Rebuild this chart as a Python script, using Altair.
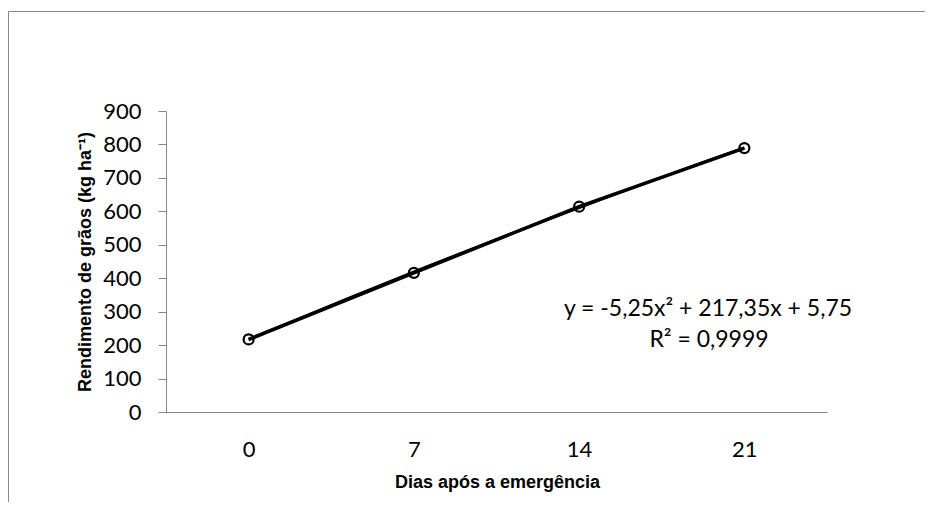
import altair as alt
import pandas as pd

# Data
dias = ["0", "7", "14", "21"]
posicao = [1, 2, 3, 4]
rendimento = [217, 416, 614, 789]
y_ticks = [0, 100, 200, 300, 400, 500, 600, 700, 800, 900]

equacao = "y = -5,25x² + 217,35x + 5,75"
r2 = "R² = 0,9999"

df = pd.DataFrame({"pos": posicao, "rend": rendimento, "dias": dias})
one = pd.DataFrame({"k": [0]})

label_expr = "[" + ",".join(f"'{d}'" for d in dias) + "][datum.value - 1]"
GRAY = "#868686"

x_enc = alt.X(
    "pos:Q",
    scale=alt.Scale(domain=[0.5, 4.5], zero=False, nice=False),
    axis=alt.Axis(
        values=posicao,
        labelExpr=label_expr,
        title="Dias após a emergência",
        ticks=False,
        tickSize=0,
        grid=False,
        domainColor=GRAY,
        domainWidth=1,
        labelFont="Lato",
        labelFontSize=22,
        labelFontWeight="normal",
        labelColor="black",
        labelBaseline="alphabetic",
        labelPadding=44,
        labelOverlap=False,
        titleFont="Liberation Sans",
        titleFontWeight="bold",
        titleFontSize=18,
        titleColor="black",
        titleX=331,
        titleY=75,
        titleBaseline="alphabetic",
        titleAlign="center",
    ),
)

y_enc = alt.Y(
    "rend:Q",
    scale=alt.Scale(domain=[0, 900], nice=False),
    axis=alt.Axis(
        values=y_ticks,
        tickCount=10,
        title="Rendimento de grãos (kg ha⁻¹)",
        grid=False,
        tickSize=8,
        tickColor=GRAY,
        domainColor=GRAY,
        domainWidth=1,
        labelFont="Lato",
        labelFontSize=22,
        labelFontWeight="normal",
        labelColor="black",
        labelPadding=17,
        labelOverlap=False,
        labelFlush=False,
        titleFont="Liberation Sans",
        titleFontWeight="bold",
        titleFontSize=18,
        titleColor="black",
        titleAngle=270,
        titleX=-81,
        titleY=150.5,
        titleBaseline="middle",
        titleAlign="center",
    ),
)

base = alt.Chart(df)
single = alt.Chart(one)

linha = base.mark_line(color="black", strokeWidth=3.5).encode(x=x_enc, y=y_enc)

tendencia = (
    base.transform_regression("pos", "rend", method="poly", order=2, extent=[1, 4])
    .mark_line(color="black", strokeWidth=2.5)
    .encode(x=x_enc, y=y_enc)
)

pontos = base.mark_point(
    shape="circle", filled=False, size=100, strokeWidth=2.2, color="black", opacity=1
).encode(x=x_enc, y=y_enc)

txt_eq = single.mark_text(
    font="Lato", fontSize=23, fontWeight="normal", fill="black",
    align="center", baseline="alphabetic"
).encode(x=alt.value(542), y=alt.value(205), text=alt.value(equacao))

txt_r2 = single.mark_text(
    font="Lato", fontSize=23, fontWeight="normal", fill="black",
    align="center", baseline="alphabetic"
).encode(x=alt.value(543), y=alt.value(235.5), text=alt.value(r2))

frame_top = single.mark_rule(color="#888888", strokeWidth=1).encode(
    x=alt.value(-157.5), x2=alt.value(800), y=alt.value(-99.5)
)
frame_left = single.mark_rule(color="#888888", strokeWidth=1).encode(
    x=alt.value(-157.5), y=alt.value(-99.5), y2=alt.value(400)
)

chart = (
    alt.layer(linha, tendencia, pontos, txt_eq, txt_r2, frame_top, frame_left)
    .properties(
        width=661,
        height=301,
        background="white",
        autosize=alt.AutoSizeParams(type="none"),
        padding={"left": 158, "top": 103, "right": 98, "bottom": 90},
    )
    .configure_view(strokeWidth=0, strokeOpacity=0, stroke=None)
)

chart.save("out.html", embed_options={"renderer": "svg", "actions": False})
